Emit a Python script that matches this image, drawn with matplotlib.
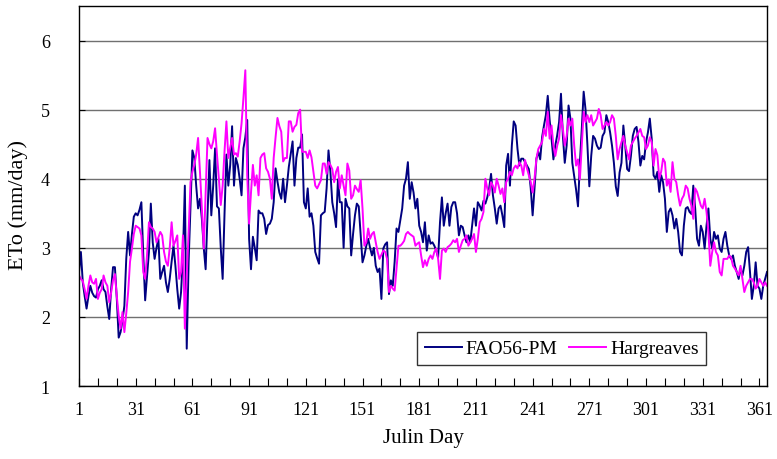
import matplotlib
matplotlib.use('Agg')
import matplotlib.pyplot as plt
import numpy as np

# daily ETo (mm/day)
fao56_pm = [
    2.65, 2.94, 2.5, 2.3, 2.12, 2.3, 2.45, 2.35, 2.3, 2.28,
    2.4, 2.45, 2.53, 2.4, 2.36, 2.15, 1.97, 2.4, 2.72, 2.72,
    2.26, 1.7, 1.78, 1.95, 2.16, 2.84, 3.23, 2.89, 3.2, 3.45,
    3.5, 3.47, 3.55, 3.66, 2.9, 2.24, 2.6, 2.94, 3.64, 3.08,
    2.84, 3.0, 3.13, 2.55, 2.65, 2.74, 2.5, 2.36, 2.55, 2.8,
    3.03, 2.74, 2.4, 2.12, 2.36, 2.9, 3.9, 1.54, 2.8, 3.6,
    4.41, 4.3, 3.9, 3.57, 3.71, 3.42, 3.0, 2.69, 3.5, 4.27,
    3.47, 3.9, 4.44, 3.6, 3.57, 3.0, 2.55, 3.5, 4.35, 3.9,
    4.2, 4.76, 3.9, 4.3, 4.2, 4.0, 3.76, 4.44, 4.6, 4.85,
    3.13, 2.69, 3.16, 3.0, 2.82, 3.54, 3.5, 3.5, 3.42, 3.2,
    3.33, 3.35, 3.42, 3.66, 4.15, 3.96, 3.8, 3.71, 4.0, 3.66,
    3.9, 4.17, 4.35, 4.54, 3.9, 4.3, 4.45, 4.45, 4.64, 3.66,
    3.57, 3.86, 3.45, 3.5, 3.32, 2.94, 2.85, 2.77, 3.47, 3.5,
    3.52, 3.86, 4.41, 4.1, 3.66, 3.5, 3.3, 3.99, 3.66, 3.66,
    3.0, 3.71, 3.6, 3.57, 2.89, 3.2, 3.47, 3.64, 3.6, 3.2,
    2.79, 2.89, 3.03, 3.13, 3.0, 2.89, 3.0, 2.74, 2.65, 2.7,
    2.26, 2.99, 3.05, 3.08, 2.33, 2.53, 2.45, 2.8, 3.28, 3.23,
    3.4, 3.57, 3.9, 4.0, 4.24, 3.71, 3.95, 3.8, 3.57, 3.71,
    3.32, 3.23, 3.08, 3.37, 2.96, 3.18, 3.06, 3.08, 3.03, 2.96,
    2.86, 3.37, 3.73, 3.32, 3.5, 3.64, 3.32, 3.59, 3.66, 3.66,
    3.5, 3.18, 3.32, 3.3, 3.18, 3.08, 3.18, 3.08, 3.32, 3.57,
    3.32, 3.66, 3.61, 3.54, 3.68, 3.64, 3.73, 3.86, 4.07, 3.76,
    3.57, 3.35, 3.57, 3.61, 3.47, 3.3, 4.19, 4.36, 3.9, 4.48,
    4.83, 4.77, 4.43, 4.19, 4.29, 4.29, 4.24, 4.19, 4.14, 3.86,
    3.47, 3.86, 4.29, 4.39, 4.28, 4.6, 4.77, 4.92, 5.2, 4.85,
    4.58, 4.28, 4.48, 4.63, 4.82, 5.23, 4.62, 4.23, 4.48, 5.06,
    4.87, 4.23, 4.04, 3.84, 3.6, 4.23, 4.72, 5.26, 5.0, 4.48,
    3.89, 4.33, 4.62, 4.58, 4.48, 4.43, 4.45, 4.62, 4.67, 4.92,
    4.82, 4.67, 4.48, 4.23, 3.89, 3.75, 4.09, 4.23, 4.77, 4.48,
    4.14, 4.11, 4.33, 4.62, 4.72, 4.75, 4.53, 4.19, 4.33, 4.28,
    4.53, 4.67, 4.87, 4.58, 4.05, 4.0, 4.1, 3.81, 4.05, 3.95,
    3.71, 3.23, 3.52, 3.57, 3.47, 3.28, 3.42, 3.23, 2.94, 2.89,
    3.32, 3.57, 3.59, 3.52, 3.49, 3.9, 3.57, 3.13, 3.03, 3.32,
    3.23, 2.99, 3.32, 3.57, 3.13, 2.99, 3.23, 3.13, 3.18, 2.99,
    2.94, 3.13, 3.23, 3.03, 2.89, 2.84, 2.89, 2.74, 2.65, 2.55,
    2.7, 2.6, 2.74, 2.94, 3.01, 2.65, 2.26, 2.45, 2.79, 2.45,
    2.41, 2.26, 2.45, 2.55, 2.65,
]

hargreaves = [
    2.6, 2.55, 2.52, 2.4, 2.26, 2.45, 2.6, 2.5, 2.48, 2.55,
    2.26, 2.35, 2.4, 2.6, 2.5, 2.45, 2.21, 2.35, 2.53, 2.62,
    2.3, 2.02, 1.83, 2.07, 1.78, 2.05, 2.36, 2.8, 2.99, 3.2,
    3.32, 3.3, 3.28, 3.18, 2.65, 2.55, 2.9, 3.37, 3.3, 3.28,
    3.23, 3.08, 3.15, 3.23, 3.18, 2.94, 2.8, 2.74, 3.0, 3.37,
    3.03, 3.1, 3.18, 2.55, 2.65, 3.18, 1.83, 2.6, 3.23, 3.95,
    4.1, 4.2, 4.35, 4.59, 4.1, 3.57, 2.99, 3.8, 4.59, 4.5,
    4.44, 4.54, 4.73, 4.35, 4.0, 3.62, 3.9, 4.4, 4.83, 4.3,
    4.45, 4.59, 4.35, 4.37, 4.32, 4.54, 4.8, 5.17, 5.57, 4.05,
    3.35, 3.8, 4.2, 3.9, 4.05, 3.76, 4.3, 4.35, 4.37, 4.15,
    4.1, 4.0, 3.71, 4.3, 4.6, 4.88, 4.76, 4.68, 4.25, 4.3,
    4.3, 4.83, 4.83, 4.68, 4.75, 4.78, 4.95, 5.0, 4.39, 4.39,
    4.39, 4.3, 4.41, 4.31, 4.1, 3.9, 3.86, 3.92, 3.98, 4.22,
    4.22, 4.07, 4.24, 4.2, 4.14, 3.95, 4.1, 4.17, 3.86, 4.05,
    3.9, 3.76, 4.22, 4.12, 3.71, 3.76, 3.9, 3.85, 3.81, 3.98,
    3.57, 3.03, 3.08, 3.28, 3.13, 3.2, 3.23, 3.08, 2.94, 2.84,
    2.9, 2.96, 2.94, 2.84, 2.36, 2.45, 2.41, 2.38, 2.7, 3.03,
    3.03, 3.06, 3.1, 3.2, 3.23, 3.2, 3.18, 3.16, 3.03, 3.06,
    3.08, 2.89, 2.72, 2.82, 2.74, 2.84, 2.89, 2.84, 2.94, 2.99,
    2.84, 2.55, 2.96, 2.99, 2.94, 3.01, 3.03, 3.06, 3.11, 3.08,
    3.13, 2.94, 3.03, 3.11, 3.13, 3.18, 3.03, 3.08, 3.13, 3.2,
    2.94, 3.13, 3.37, 3.42, 3.52, 4.0, 3.86, 3.76, 3.95, 3.9,
    3.8, 4.0, 3.9, 3.78, 3.86, 3.66, 3.95, 4.0, 4.1, 4.05,
    4.15, 4.19, 4.15, 4.24, 4.19, 4.05, 4.27, 4.15, 4.05, 3.95,
    3.8, 4.0, 4.29, 4.43, 4.48, 4.53, 4.72, 4.62, 4.97, 4.58,
    4.77, 4.48, 4.33, 4.48, 4.58, 4.92, 4.72, 4.48, 4.62, 4.87,
    4.77, 4.87, 4.48, 4.19, 4.28, 3.99, 4.48, 4.97, 4.82, 4.92,
    4.82, 4.92, 4.77, 4.82, 4.87, 5.01, 4.92, 4.72, 4.77, 4.82,
    4.77, 4.82, 4.92, 4.87, 4.62, 4.28, 4.43, 4.53, 4.62, 4.48,
    4.38, 4.28, 4.48, 4.53, 4.58, 4.62, 4.67, 4.72, 4.62, 4.6,
    4.43, 4.48, 4.6, 4.53, 4.19, 4.43, 4.34, 4.0, 4.1, 4.29,
    4.24, 3.9, 3.99, 3.81, 4.24, 4.0, 3.95, 3.76, 3.61, 3.71,
    3.76, 3.9, 3.86, 3.71, 3.61, 3.42, 3.86, 3.81, 3.71, 3.61,
    3.57, 3.71, 3.52, 3.23, 2.74, 2.94, 3.08, 2.94, 2.89, 2.65,
    2.6, 2.84, 2.84, 2.84, 2.89, 2.86, 2.74, 2.7, 2.65, 2.6,
    2.74, 2.55, 2.36, 2.45, 2.5, 2.55, 2.55, 2.5, 2.41, 2.45,
    2.55, 2.5, 2.45, 2.5, 2.45,
]

day_labels = [1, 31, 61, 91, 121, 151, 181, 211, 241, 271, 301, 331, 361]
y_ticks = [1, 2, 3, 4, 5, 6]

plt.rcParams['font.family'] = ['Liberation Serif', 'DejaVu Serif']

fig = plt.figure(figsize=(7.77, 4.6), dpi=100)
ax = fig.add_axes([79/777, 1-387/460, 688/777, 380/460])

d1 = np.arange(1, len(fao56_pm)+1)
d2 = np.arange(1, len(hargreaves)+1)
ax.plot(d1, fao56_pm, color='#000080', linewidth=1.4, label='FAO56-PM')
ax.plot(d2, hargreaves, color='#FF00FF', linewidth=1.4, label='Hargreaves')

ax.set_xlim(1, 365)
ax.set_ylim(1, 6.5)
ax.set_yticks(y_ticks)
ax.set_xticks(day_labels)
ax.set_xticks(np.arange(1, 366, 10), minor=True)
ax.tick_params(axis='x', which='both', direction='in', length=6, width=0.8, pad=11, labelsize=13)
ax.tick_params(axis='y', direction='in', length=4, width=0.8, pad=21, labelsize=13)
ax.grid(axis='y', color='#707070', linewidth=1.0)
ax.set_axisbelow(True)
for s in ax.spines.values():
    s.set_linewidth(1.0)
    s.set_color('black')

ax.set_xlabel('Julin Day', fontsize=15)
ax.set_ylabel('ETo (mm/day)', fontsize=16)
ax.xaxis.set_label_coords(0.5, -0.11)
ax.yaxis.set_label_coords(-0.074, 0.48)

leg = ax.legend(loc='upper left', bbox_to_anchor=((417-79)/688, (387-333)/380),
                ncol=2, fontsize=14, frameon=True, fancybox=False,
                handlelength=1.9, handletextpad=0.2, borderaxespad=0,
                columnspacing=0.6, borderpad=0.4)
leg.get_frame().set_edgecolor('black')
leg.get_frame().set_linewidth(1.0)

fig.savefig('out.png', dpi=100)
